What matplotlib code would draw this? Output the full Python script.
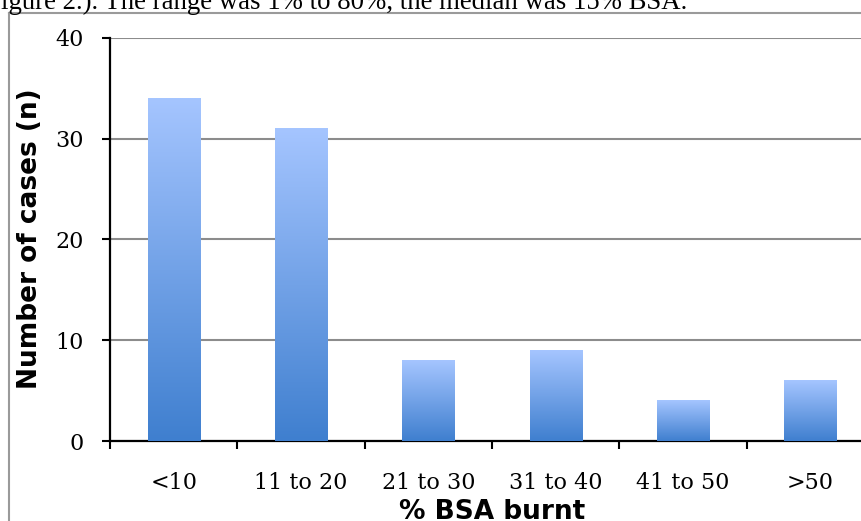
import numpy as np
import matplotlib.pyplot as plt
from matplotlib.colors import LinearSegmentedColormap
from matplotlib.lines import Line2D

# data
categories = ['<10', '11 to 20', '21 to 30', '31 to 40', '41 to 50', '>50']
cases = [34, 31, 8, 9, 4, 6]
y_ticks = [0, 10, 20, 30, 40]

W, H = 861, 521
fig = plt.figure(figsize=(W / 100, H / 100), dpi=100)

# caption text cut off at the top of the crop
fig.text(1 / W, 1 - 9 / H, 'igure 2.). The range was 1% to 80%, the median was 15% BSA.',
         family='Liberation Serif', fontsize=19.3, ha='left', va='baseline')

# outer chart frame (only left and top edges visible)
fig.add_artist(Line2D([9 / W, 9 / W], [-0.1, 1 - 13 / H], transform=fig.transFigure,
                      color='#9a9a9a', lw=1.5))
fig.add_artist(Line2D([9 / W, 1.1], [1 - 13 / H, 1 - 13 / H], transform=fig.transFigure,
                      color='#9a9a9a', lw=1.5))

ax = fig.add_axes([110 / W, 80 / H, 764 / W, 403 / H])

x = np.arange(len(categories))
width = 0.41
cmap = LinearSegmentedColormap.from_list('bar', ['#3f7fcf', '#a5c5ff'])
grad = np.linspace(0, 1, 256).reshape(-1, 1)

bars = ax.bar(x, cases, width=width, color='none', zorder=3)
for b in bars:
    x0, h = b.get_x(), b.get_height()
    # soft shadow on the right
    ax.bar(x0 + width / 2 + 0.012, h, width=0.03, color='#000000', alpha=0.07, zorder=2)
    ax.imshow(grad, cmap=cmap, origin='lower', aspect='auto',
              extent=[x0, x0 + width, 0, h], zorder=3, interpolation='bilinear')

ax.set_xlim(-0.5, len(categories) - 0.5)
ax.set_ylim(0, 40)

ax.set_yticks(y_ticks)
ax.yaxis.grid(True, color='#8c8c8c', lw=1.5, zorder=1)
ax.set_axisbelow(True)

ax.set_xticks(x)
ax.set_xticklabels(categories)
ax.set_xticks(np.arange(len(categories) + 1) - 0.5, minor=True)
ax.tick_params(axis='x', which='major', length=0, pad=22)
ax.tick_params(axis='x', which='minor', length=6, width=1.5, direction='out')
ax.tick_params(axis='y', length=6, width=1.5, pad=13)
for lab in ax.get_xticklabels() + ax.get_yticklabels():
    lab.set_family('DejaVu Serif')
    lab.set_fontsize(16)

for s in ['top', 'right']:
    ax.spines[s].set_visible(False)
for s in ['left', 'bottom']:
    ax.spines[s].set_linewidth(1.6)
    ax.spines[s].set_color('black')

fig.text(30 / W, 1 - 239 / H, 'Number of cases (n)', rotation=90, ha='center', va='center',
         fontsize=19, fontweight='bold', family='DejaVu Sans')
fig.text(492 / W, 1 - 519 / H, '% BSA burnt', ha='center', va='baseline',
         fontsize=19, fontweight='bold', family='DejaVu Sans')

fig.savefig('out.png', dpi=100)
